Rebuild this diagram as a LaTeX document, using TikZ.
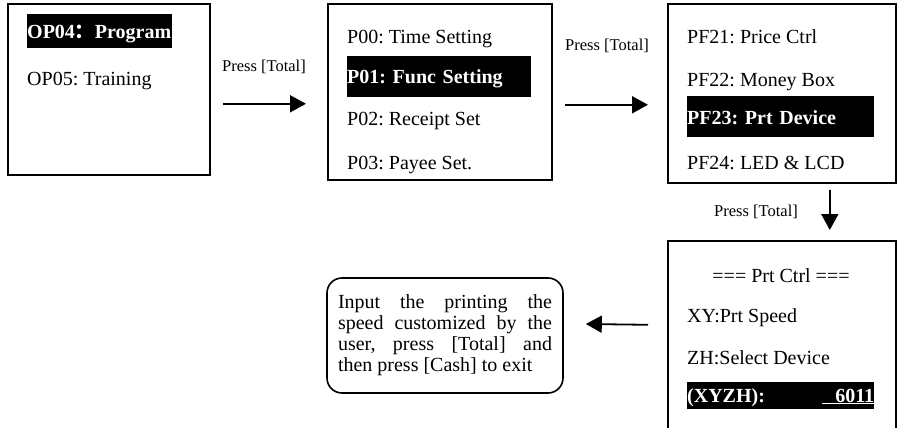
\documentclass[tikz,border=0pt]{standalone}
\usepackage{fontspec}
\setmainfont{Liberation Serif}
\newfontfamily\cjk{Noto Sans CJK SC}
\usetikzlibrary{positioning, arrows.meta, calc}
\frenchspacing

\begin{document}
\begin{tikzpicture}[
    x=1pt, y=-1pt,
    >={Triangle[length=16pt, width=17pt]},
    font=\fontsize{20}{21}\selectfont,
    screen/.style={rectangle, draw, line width=1.6pt, anchor=north west, inner sep=0pt},
    item/.style={anchor=base west, inner sep=0pt},
    hl/.style={item, fill=black, text=white, font=\fontsize{20}{21}\selectfont\bfseries, text width=#1, text height=28pt, text depth=13pt},
    press/.style={anchor=base, inner sep=0pt, font=\fontsize{16.5}{18}\selectfont},
    note/.style={rectangle, draw, line width=1.6pt, rounded corners=15pt, inner xsep=11pt, text width=214pt, align=justify, minimum width=236pt, minimum height=115pt},
    flow/.style={->, line width=1.8pt},
]

\clip (0,0) rectangle (897,428);

% menu screens
\node[screen, minimum width=202pt, minimum height=171pt] (op) at (7,3) {};
\node[screen, minimum width=224pt, minimum height=176pt] (p) at (327,3) {};
\node[screen, minimum width=228pt, minimum height=179pt] (pf) at (667,3) {};
\node[screen, minimum width=228pt, minimum height=200pt] (prt) at (667,240) {};

\node[hl=145pt, text height=25pt, text depth=9pt] (op04) at (27,39) {OP04{\cjk ：}Program};
\node[item] (op05) at (27,85) {OP05: Training};

\node[item] (p00) at (347,44) {P00: Time Setting};
\node[hl=184pt] (p01) at (347,84) {P01: Func Setting};
\node[item] (p02) at (347,125) {P02: Receipt Set};
\node[item] (p03) at (347,169) {P03: Payee Set.};

\node[item] (pf21) at (687,44) {PF21: Price Ctrl};
\node[item] (pf22) at (687,86) {PF22: Money Box};
\node[hl=187pt] (pf23) at (687,124) {PF23: Prt Device};
\node[item] (pf24) at (687,169) {PF24: LED \& LCD};

\node[anchor=base, inner sep=0pt] (ctrl) at (781,282) {=== Prt Ctrl ===};
\node[item] (xy) at (687,322) {XY:Prt Speed};
\node[item] (zh) at (687,364) {ZH:Select Device};
\node[hl=187pt, text height=20pt, text depth=7pt] (xyzh) at (687,402) {(XYZH):\hfill\underline{\ \ 6011}};

\node[note] (input) at (445,335.5) {Input the printing the\linebreak speed customized by the\linebreak user, press [Total] and\linebreak then press [Cash] to exit};

% key presses
\node[press] (lab1) at (264,72) {Press [Total]};
\node[press] (lab2) at (607,51) {Press [Total]};
\node[press] (lab3) at (756,216) {Press [Total]};

\draw[flow] ($(op.east)+(12,14.5)$) -- ($(p.west)+(-21,12)$);
\draw[flow] ($(p.east)+(12,13)$) -- ($(pf.west)+(-19,11.5)$);
\draw[flow] ($(pf.south)+(48,6)$) -- ($(prt.north)+(48,-10)$);
\draw[flow] ($(prt.west)+(-19,-16)$) -- ($(input.east)+(22,-11.5)$);

\end{tikzpicture}
\end{document}
